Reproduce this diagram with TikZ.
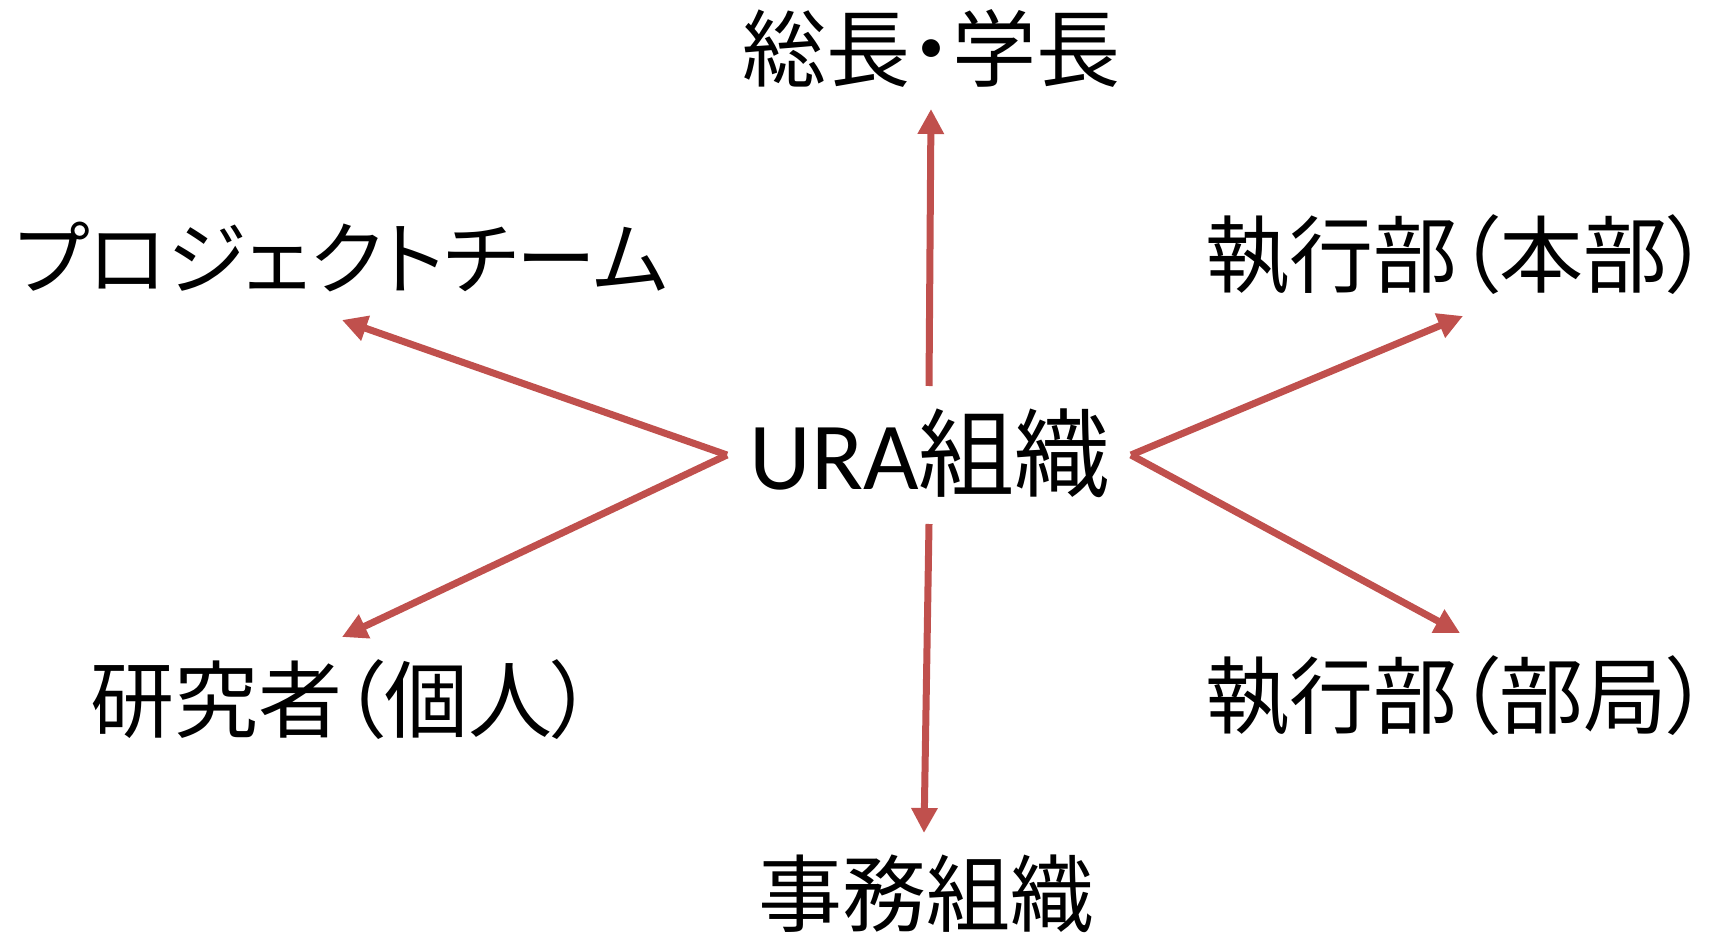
\documentclass[tikz,border=0pt]{standalone}
\usepackage{fontspec}
\setmainfont[RawFeature=+palt]{Noto Sans CJK JP}
\newfontfamily\latinf{Carlito}
\usetikzlibrary{arrows.meta}
\definecolor{arr}{HTML}{C0504D}
\tikzset{
  lbl/.style={inner sep=0pt, font=\fontsize{84}{100}\selectfont},
  conn/.style={draw=arr, line width=7pt, -{Triangle[length=25pt,width=25pt]}}
}
\begin{document}
\begin{tikzpicture}[x=1pt,y=-1pt]
\useasboundingbox (0,0) rectangle (1713,933);
\node[lbl] (top) at (931,48) {総長・学長};
\node[lbl, font=\fontsize{80}{96}\selectfont] (pj) at (342,257) {プロジェクトチーム};
\node[lbl, anchor=east] (hq) at (1710,255) {執行部（本部）};
\node[lbl, font=\fontsize{96}{110}\selectfont] (ura) at (930,453) {{\latinf URA}組織};
\node[lbl] (res) at (342,700) {研究者（個人）};
\node[lbl, anchor=east] (dept) at (1710,696) {執行部（部局）};
\node[lbl] (jim) at (926,894) {事務組織};
\coordinate (uT) at (929,386);
\coordinate (uB) at (929,524);
\coordinate (uL) at (727,455);
\coordinate (uR) at (1131,455);
\coordinate (tTop) at (931,109);
\coordinate (tJim) at (924,833);
\coordinate (tPj) at (342,320);
\coordinate (tRes) at (342,637);
\coordinate (tHq) at (1463,316);
\coordinate (tDept) at (1460,633);
\draw[conn] (uT) -- (tTop);
\draw[conn] (uB) -- (tJim);
\draw[conn] (uL) -- (tPj);
\draw[conn] (uL) -- (tRes);
\draw[conn] (uR) -- (tHq);
\draw[conn] (uR) -- (tDept);
\end{tikzpicture}
\end{document}
